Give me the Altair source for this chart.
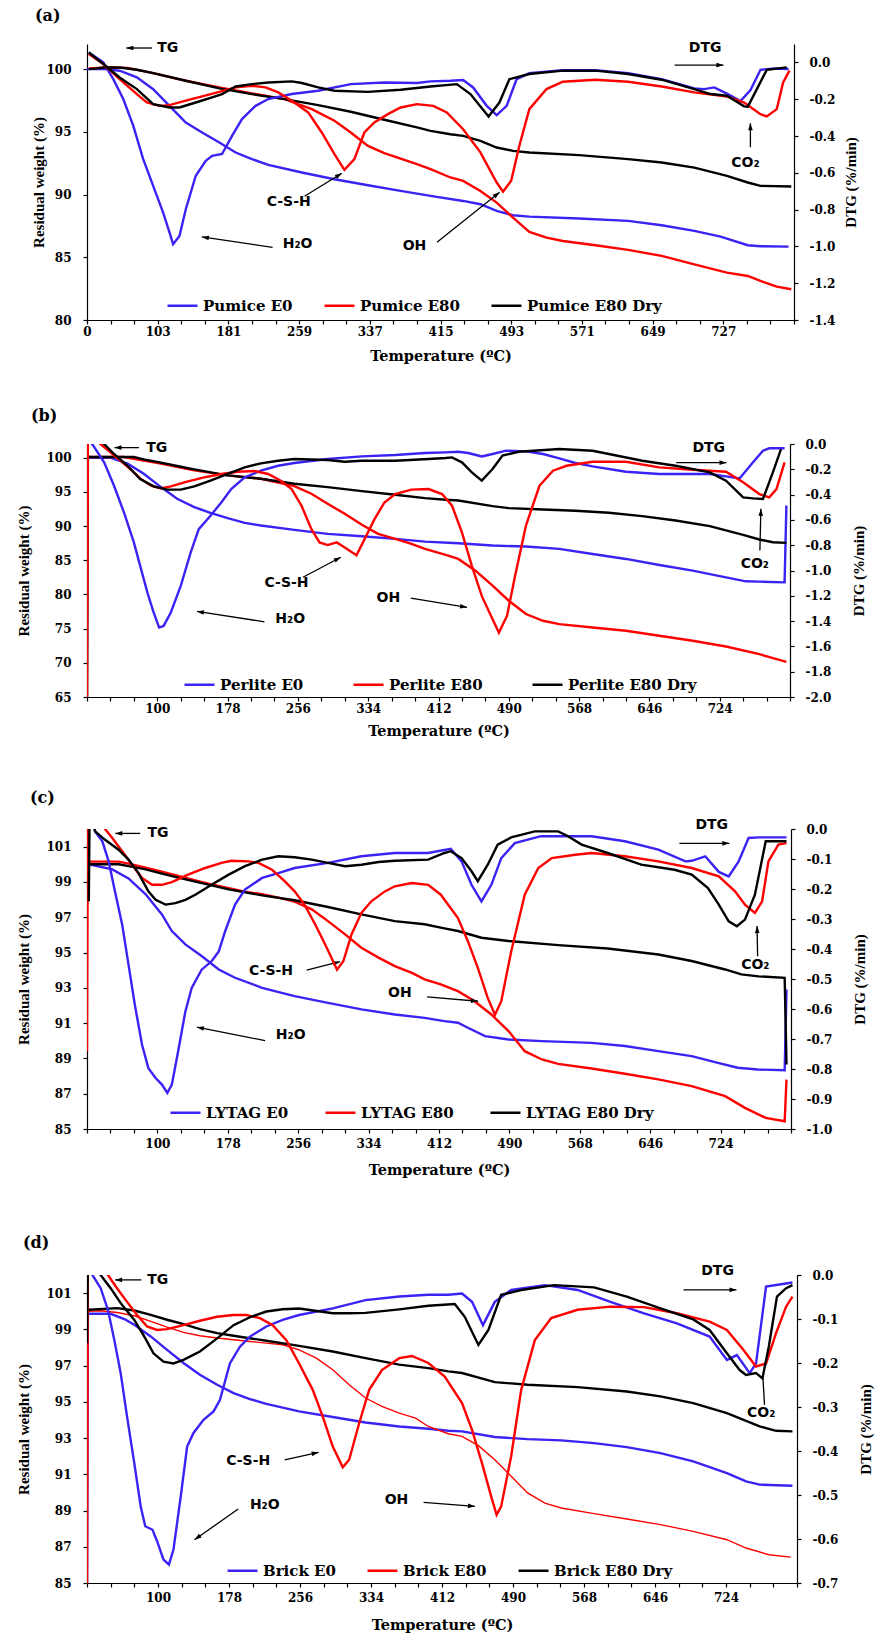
import math
import altair as alt
import pandas as pd

# ---------------------------------------------------------------------------
# Styling
# ---------------------------------------------------------------------------
BLUE = "#3b22f5"
RED = "#ff0000"
BLACK = "#000000"
COLORS = [BLUE, RED, BLACK]

SERIF = "DejaVu Serif"          # tick labels, legend, x title, panel tags
TITLE_SERIF = "Liberation Serif"  # vertical axis titles
SANS = "DejaVu Sans"            # peak annotations

# Temperature axis: a tick every 26 °C, a label every third tick
XLABELS_A = ["0", "103", "181", "259", "337", "415", "493", "571", "649", "727"]
XLABELS_BCD = ["", "100", "178", "256", "334", "412", "490", "568", "646", "724"]

# ---------------------------------------------------------------------------
# (a) Pumice   -- (temperature °C, value)
# ---------------------------------------------------------------------------
PUMICE_NAMES = ["Pumice E0", "Pumice E80", "Pumice E80 Dry"]
PUMICE_E0_TG = [(25, 100.0), (45, 100.0), (61, 99.87), (80, 99.34), (98, 98.40), (116, 97.07), (134, 95.74),
                (152, 94.95), (171, 94.15), (189, 93.35), (207, 92.82), (225, 92.37), (262, 91.76), (298, 91.22),
                (335, 90.74), (371, 90.29), (404, 89.89), (440, 89.49), (459, 89.23), (477, 88.70), (495, 88.35),
                (513, 88.24), (568, 88.09), (622, 87.90), (659, 87.55), (695, 87.10), (724, 86.65), (754, 85.96),
                (768, 85.88), (799, 85.85)]
PUMICE_E80_TG = [(27, 100.05), (45, 100.13), (70, 100.10), (98, 99.68), (134, 99.07), (171, 98.54), (207, 98.06),
                 (243, 97.61), (273, 96.81), (298, 95.88), (316, 94.95), (335, 93.88), (353, 93.30), (389, 92.42),
                 (404, 92.02), (426, 91.36), (440, 91.09), (459, 90.29), (477, 89.36), (495, 88.16), (513, 87.02),
                 (532, 86.57), (550, 86.30), (586, 85.96), (622, 85.59), (659, 85.11), (695, 84.44), (731, 83.78),
                 (754, 83.51), (768, 83.11), (786, 82.66), (802, 82.45)]
PUMICE_DRY_TG = [(27, 100.0), (45, 100.13), (61, 100.13), (80, 99.95), (98, 99.68), (134, 99.07), (171, 98.46),
                 (207, 98.0), (243, 97.61), (280, 97.13), (316, 96.60), (353, 95.96), (389, 95.35), (404, 95.08),
                 (426, 94.81), (440, 94.68), (459, 94.28), (477, 93.75), (495, 93.48), (513, 93.35), (568, 93.14),
                 (622, 92.82), (659, 92.55), (695, 92.15), (731, 91.49), (754, 90.96), (768, 90.69), (802, 90.64)]
PUMICE_E0_DTG = [(27, 0.054), (43, 0.0), (54, -0.091), (65, -0.199), (76, -0.344), (87, -0.526), (98, -0.671),
                 (109, -0.816), (116, -0.924), (120, -0.988), (127, -0.943), (134, -0.798), (145, -0.616),
                 (156, -0.535), (163, -0.508), (174, -0.498), (185, -0.399), (196, -0.308), (211, -0.236),
                 (225, -0.199), (251, -0.172), (280, -0.154), (316, -0.118), (353, -0.109), (389, -0.112),
                 (404, -0.103), (426, -0.100), (440, -0.096), (451, -0.136), (466, -0.236), (477, -0.286),
                 (488, -0.236), (499, -0.091), (513, -0.058), (550, -0.042), (586, -0.042), (622, -0.058),
                 (659, -0.091), (695, -0.141), (706, -0.145), (717, -0.136), (731, -0.170), (746, -0.210),
                 (757, -0.150), (768, -0.040), (783, -0.033), (799, -0.036)]
PUMICE_E80_DTG = [(27, 0.045), (43, -0.009), (61, -0.091), (80, -0.172), (91, -0.218), (105, -0.236), (116, -0.232),
                  (134, -0.208), (152, -0.185), (171, -0.160), (189, -0.136), (207, -0.127), (222, -0.136),
                  (236, -0.163), (251, -0.208), (269, -0.272), (284, -0.381), (298, -0.498), (309, -0.584),
                  (320, -0.526), (331, -0.381), (342, -0.326), (357, -0.281), (371, -0.245), (389, -0.227),
                  (407, -0.236), (422, -0.272), (440, -0.363), (459, -0.489), (477, -0.653), (484, -0.703),
                  (493, -0.643), (502, -0.453), (513, -0.254), (532, -0.145), (550, -0.105), (586, -0.094),
                  (622, -0.105), (659, -0.131), (695, -0.163), (731, -0.185), (750, -0.218), (768, -0.281),
                  (775, -0.294), (786, -0.254), (793, -0.109), (800, -0.045)]
PUMICE_DRY_DTG = [(27, 0.054), (43, -0.009), (61, -0.082), (80, -0.145), (98, -0.227), (116, -0.245), (127, -0.245),
                  (145, -0.218), (163, -0.190), (174, -0.172), (189, -0.131), (207, -0.118), (225, -0.109),
                  (251, -0.103), (262, -0.112), (280, -0.136), (298, -0.154), (335, -0.160), (371, -0.149),
                  (404, -0.131), (433, -0.118), (448, -0.172), (468, -0.294), (480, -0.218), (491, -0.091),
                  (513, -0.063), (550, -0.045), (586, -0.045), (622, -0.063), (659, -0.094), (695, -0.145),
                  (713, -0.172), (731, -0.181), (750, -0.239), (754, -0.241), (764, -0.145), (775, -0.040),
                  (797, -0.027)]

# ---------------------------------------------------------------------------
# (b) Perlite
# ---------------------------------------------------------------------------
PERLITE_NAMES = ["Perlite E0", "Perlite E80", "Perlite E80 Dry"]
PERLITE_E0_TG = [(22, 100.0), (48, 100.0), (67, 99.12), (85, 97.65), (104, 95.70), (122, 93.99), (141, 92.77),
                 (159, 91.94), (178, 91.15), (197, 90.47), (215, 90.08), (252, 89.44), (289, 88.86), (327, 88.51),
                 (364, 88.12), (397, 87.73), (434, 87.49), (472, 87.15), (509, 87.0), (546, 86.66), (583, 85.92),
                 (620, 85.19), (657, 84.31), (694, 83.48), (731, 82.50), (753, 81.92), (768, 81.87), (796, 81.77),
                 (798, 93.0)]
PERLITE_E80_TG = [(24, 100.1), (63, 100.1), (104, 99.12), (141, 98.14), (178, 97.41), (215, 96.92), (252, 95.85),
                  (271, 94.72), (289, 93.26), (308, 91.79), (327, 90.18), (345, 88.86), (364, 88.12), (382, 87.39),
                  (397, 86.66), (420, 85.78), (434, 85.19), (453, 83.48), (472, 81.28), (490, 79.08), (509, 77.13),
                  (528, 76.15), (546, 75.66), (583, 75.17), (620, 74.68), (657, 73.95), (694, 73.22), (731, 72.39),
                  (768, 71.26), (798, 70.14)]
PERLITE_DRY_TG = [(22, 65.0), (23, 100.1), (74, 100.1), (85, 99.76), (104, 99.27), (122, 98.78), (141, 98.29),
                  (178, 97.41), (215, 96.92), (252, 96.19), (289, 95.70), (327, 95.11), (364, 94.57), (397, 94.09),
                  (420, 93.84), (434, 93.74), (472, 92.91), (490, 92.62), (528, 92.42), (564, 92.23), (601, 91.94),
                  (638, 91.45), (675, 90.81), (713, 89.98), (750, 88.71), (768, 88.03), (783, 87.63), (798, 87.54)]
PERLITE_E0_DTG = [(22, 0.05), (29, -0.013), (41, -0.145), (52, -0.330), (63, -0.541), (74, -0.778), (81, -0.963),
                  (89, -1.174), (96, -1.332), (102, -1.451), (107, -1.438), (115, -1.332), (126, -1.121),
                  (137, -0.858), (146, -0.673), (159, -0.567), (171, -0.462), (182, -0.356), (197, -0.264),
                  (215, -0.211), (234, -0.172), (252, -0.150), (289, -0.119), (327, -0.098), (364, -0.087),
                  (397, -0.071), (420, -0.066), (434, -0.061), (445, -0.071), (460, -0.098), (472, -0.079),
                  (487, -0.053), (509, -0.058), (528, -0.079), (546, -0.113), (564, -0.150), (583, -0.177),
                  (620, -0.219), (657, -0.237), (694, -0.237), (713, -0.237), (731, -0.256), (746, -0.272),
                  (761, -0.145), (772, -0.053), (779, -0.034), (796, -0.034)]
PERLITE_E80_DTG = [(22, -2.0), (23, 0.1), (37, 0.0), (48, -0.066), (59, -0.132), (70, -0.198), (81, -0.272),
                   (93, -0.330), (104, -0.351), (115, -0.335), (133, -0.298), (152, -0.264), (171, -0.237),
                   (189, -0.219), (208, -0.214), (223, -0.237), (237, -0.290), (249, -0.356), (260, -0.488),
                   (271, -0.673), (280, -0.778), (289, -0.799), (299, -0.778), (308, -0.818), (321, -0.879),
                   (330, -0.752), (341, -0.594), (352, -0.462), (364, -0.396), (382, -0.361), (401, -0.356),
                   (416, -0.396), (427, -0.488), (438, -0.699), (449, -0.963), (460, -1.201), (472, -1.385),
                   (479, -1.491), (488, -1.359), (497, -1.042), (509, -0.646), (524, -0.330), (539, -0.211),
                   (554, -0.172), (583, -0.140), (620, -0.140), (657, -0.185), (694, -0.203), (731, -0.219),
                   (750, -0.303), (768, -0.396), (779, -0.422), (787, -0.356), (796, -0.145)]
PERLITE_DRY_DTG = [(22, 0.15), (41, 0.0), (52, -0.079), (67, -0.172), (81, -0.277), (96, -0.335), (111, -0.361),
                   (126, -0.361), (141, -0.335), (159, -0.290), (178, -0.237), (197, -0.185), (215, -0.153),
                   (234, -0.132), (252, -0.119), (289, -0.127), (308, -0.140), (327, -0.132), (364, -0.132),
                   (401, -0.119), (420, -0.111), (427, -0.106), (438, -0.145), (449, -0.224), (460, -0.290),
                   (472, -0.198), (483, -0.092), (501, -0.061), (546, -0.040), (583, -0.053), (601, -0.079),
                   (638, -0.132), (675, -0.172), (713, -0.224), (731, -0.290), (750, -0.422), (761, -0.430),
                   (772, -0.435), (783, -0.224), (792, -0.040)]

# ---------------------------------------------------------------------------
# (c) LYTAG
# ---------------------------------------------------------------------------
LYTAG_NAMES = ["LYTAG E0", "LYTAG E80", "LYTAG E80 Dry"]
LYTAG_E0_TG = [(24, 100.0), (50, 99.71), (68, 99.20), (87, 98.30), (105, 97.16), (116, 96.22), (131, 95.46),
               (149, 94.80), (168, 94.04), (186, 93.57), (216, 93.0), (252, 92.53), (289, 92.15), (326, 91.78),
               (363, 91.49), (396, 91.30), (418, 91.11), (433, 91.02), (444, 90.74), (463, 90.26), (489, 90.07),
               (526, 89.98), (581, 89.88), (618, 89.70), (655, 89.41), (692, 89.13), (721, 88.75), (743, 88.47),
               (765, 88.37), (795, 88.33), (797, 92.9)]
LYTAG_E80_TG = [(24, 100.15), (57, 100.15), (68, 100.04), (87, 99.81), (105, 99.58), (123, 99.34), (142, 99.09),
                (160, 98.86), (179, 98.64), (197, 98.45), (216, 98.30), (234, 98.11), (252, 97.88), (271, 97.45),
                (289, 96.78), (308, 96.03), (326, 95.27), (345, 94.71), (363, 94.23), (382, 93.85), (396, 93.48),
                (414, 93.19), (433, 92.81), (451, 92.25), (470, 91.49), (489, 90.55), (507, 89.41), (526, 88.94),
                (544, 88.69), (581, 88.43), (618, 88.13), (655, 87.81), (692, 87.43), (729, 86.86), (751, 86.20),
                (774, 85.63), (795, 85.44), (797, 87.8)]
LYTAG_DRY_TG = [(24, 100.0), (57, 100.0), (68, 99.90), (87, 99.71), (105, 99.47), (123, 99.24), (142, 99.02),
                (179, 98.58), (216, 98.24), (252, 97.96), (289, 97.58), (326, 97.16), (363, 96.78), (396, 96.60),
                (418, 96.37), (433, 96.22), (459, 95.84), (489, 95.65), (544, 95.42), (599, 95.23), (655, 94.89),
                (692, 94.52), (729, 94.04), (747, 93.76), (766, 93.65), (795, 93.57), (797, 88.66)]
LYTAG_E0_DTG = [(22, 0.1), (31, -0.008), (39, -0.041), (46, -0.108), (53, -0.208), (61, -0.319), (68, -0.452),
                (75, -0.586), (83, -0.719), (90, -0.797), (98, -0.830), (105, -0.852), (111, -0.880), (116, -0.852),
                (123, -0.741), (131, -0.608), (138, -0.530), (149, -0.469), (160, -0.441), (168, -0.408),
                (175, -0.341), (186, -0.252), (197, -0.202), (216, -0.163), (234, -0.147), (252, -0.130),
                (289, -0.113), (326, -0.091), (363, -0.080), (400, -0.080), (425, -0.066), (437, -0.108),
                (448, -0.186), (459, -0.241), (470, -0.186), (481, -0.097), (496, -0.047), (525, -0.024),
                (581, -0.024), (618, -0.041), (655, -0.069), (685, -0.108), (692, -0.106), (707, -0.091),
                (722, -0.143), (733, -0.158), (744, -0.108), (755, -0.030), (766, -0.028), (797, -0.028)]
LYTAG_E80_DTG = [(22, -0.741), (23, 0.1), (42, 0.0), (50, -0.030), (61, -0.074), (72, -0.119), (83, -0.163),
                 (94, -0.186), (105, -0.186), (116, -0.177), (134, -0.152), (153, -0.130), (171, -0.113),
                 (182, -0.106), (201, -0.108), (212, -0.113), (227, -0.136), (241, -0.174), (252, -0.208),
                 (263, -0.252), (275, -0.319), (286, -0.386), (293, -0.430), (299, -0.469), (306, -0.441),
                 (315, -0.352), (326, -0.280), (337, -0.241), (352, -0.208), (363, -0.191), (382, -0.180),
                 (400, -0.186), (414, -0.219), (433, -0.297), (444, -0.374), (455, -0.463), (466, -0.563),
                 (474, -0.619), (481, -0.574), (492, -0.408), (507, -0.219), (522, -0.130), (537, -0.097),
                 (563, -0.086), (581, -0.080), (618, -0.091), (655, -0.108), (692, -0.130), (722, -0.158),
                 (740, -0.208), (751, -0.252), (762, -0.280), (770, -0.241), (777, -0.108), (788, -0.052),
                 (797, -0.047)]
LYTAG_DRY_DTG = [(24, -0.241), (25, 0.1), (31, -0.008), (42, -0.036), (57, -0.069), (68, -0.102), (79, -0.147),
                 (90, -0.208), (98, -0.236), (109, -0.252), (120, -0.247), (131, -0.236), (142, -0.219),
                 (160, -0.186), (179, -0.152), (197, -0.124), (216, -0.102), (234, -0.091), (252, -0.094),
                 (271, -0.102), (289, -0.113), (308, -0.124), (326, -0.119), (345, -0.110), (363, -0.106),
                 (400, -0.102), (418, -0.080), (425, -0.074), (437, -0.097), (448, -0.141), (455, -0.174),
                 (466, -0.119), (477, -0.052), (492, -0.028), (518, -0.008), (544, -0.008), (555, -0.024),
                 (570, -0.052), (599, -0.080), (636, -0.119), (673, -0.136), (692, -0.152), (710, -0.197),
                 (722, -0.252), (733, -0.308), (742, -0.324), (751, -0.302), (762, -0.219), (774, -0.041),
                 (797, -0.041)]

# ---------------------------------------------------------------------------
# (d) Brick
# ---------------------------------------------------------------------------
BRICK_NAMES = ["Brick E0", "Brick E80", "Brick E80 Dry"]
BRICK_E0_TG = [(22, 85.0), (23, 99.86), (48, 99.86), (63, 99.57), (74, 99.25), (92, 98.61), (110, 97.87),
               (128, 97.14), (146, 96.49), (165, 95.94), (183, 95.48), (201, 95.15), (219, 94.89), (255, 94.47),
               (292, 94.16), (328, 93.86), (365, 93.64), (397, 93.51), (419, 93.40), (434, 93.37), (470, 93.06),
               (506, 92.94), (543, 92.87), (579, 92.72), (615, 92.50), (652, 92.17), (688, 91.71), (725, 91.07),
               (746, 90.61), (761, 90.43), (797, 90.37)]
BRICK_E80_TG = [(24, 99.99), (37, 100.03), (55, 99.93), (74, 99.75), (92, 99.44), (110, 99.12), (128, 98.83),
                (146, 98.65), (165, 98.52), (183, 98.43), (201, 98.33), (219, 98.24), (237, 98.15), (255, 97.87),
                (274, 97.41), (292, 96.77), (310, 95.94), (328, 95.21), (346, 94.75), (365, 94.38), (383, 94.10),
                (397, 93.64), (419, 93.24), (434, 93.09), (452, 92.58), (470, 91.80), (488, 90.89), (506, 89.97),
                (525, 89.41), (543, 89.14), (579, 88.83), (615, 88.53), (652, 88.22), (688, 87.85), (725, 87.39),
                (746, 86.93), (771, 86.56), (795, 86.43)]
BRICK_DRY_TG = [(24, 100.08), (55, 100.17), (74, 100.04), (92, 99.80), (110, 99.53), (128, 99.29), (146, 99.01),
                (165, 98.79), (183, 98.65), (219, 98.37), (255, 98.09), (292, 97.78), (328, 97.41), (365, 97.05),
                (397, 96.86), (419, 96.68), (434, 96.59), (470, 96.09), (506, 95.94), (561, 95.81), (615, 95.57),
                (652, 95.30), (688, 94.93), (725, 94.38), (761, 93.64), (779, 93.40), (797, 93.37)]
BRICK_E0_DTG = [(24, 0.05), (28, 0.0), (37, -0.030), (45, -0.079), (52, -0.148), (59, -0.223), (66, -0.322),
                (74, -0.428), (81, -0.526), (86, -0.571), (94, -0.579), (99, -0.605), (106, -0.647), (112, -0.658),
                (117, -0.624), (125, -0.503), (132, -0.390), (139, -0.359), (150, -0.329), (161, -0.310),
                (168, -0.284), (179, -0.201), (190, -0.163), (201, -0.140), (219, -0.117), (237, -0.102),
                (255, -0.091), (292, -0.076), (328, -0.057), (365, -0.049), (397, -0.045), (419, -0.045),
                (434, -0.042), (445, -0.061), (457, -0.114), (470, -0.061), (488, -0.034), (525, -0.023),
                (561, -0.034), (597, -0.061), (634, -0.087), (670, -0.110), (706, -0.140), (725, -0.193),
                (736, -0.182), (750, -0.223), (757, -0.201), (768, -0.026), (797, -0.017)]
BRICK_E80_DTG = [(22, -0.7), (23, 0.05), (45, 0.0), (55, -0.030), (66, -0.061), (77, -0.091), (88, -0.117),
                 (99, -0.125), (110, -0.123), (128, -0.114), (146, -0.104), (165, -0.095), (183, -0.091),
                 (197, -0.091), (212, -0.098), (226, -0.114), (241, -0.148), (255, -0.201), (270, -0.261),
                 (281, -0.322), (292, -0.390), (303, -0.437), (310, -0.420), (321, -0.337), (332, -0.261),
                 (346, -0.216), (365, -0.189), (379, -0.184), (397, -0.200), (415, -0.231), (434, -0.291),
                 (445, -0.352), (456, -0.428), (466, -0.503), (472, -0.545), (477, -0.526), (488, -0.412),
                 (499, -0.261), (514, -0.148), (532, -0.098), (561, -0.079), (597, -0.072), (634, -0.073),
                 (670, -0.087), (706, -0.106), (725, -0.125), (743, -0.170), (757, -0.208), (768, -0.201),
                 (779, -0.132), (790, -0.072), (797, -0.049)]
BRICK_DRY_DTG = [(22, -0.155), (23, 0.05), (37, 0.0), (48, -0.030), (59, -0.064), (74, -0.102), (85, -0.140),
                 (95, -0.178), (106, -0.197), (117, -0.201), (128, -0.193), (146, -0.174), (165, -0.144),
                 (183, -0.114), (201, -0.096), (219, -0.083), (237, -0.078), (255, -0.076), (292, -0.087),
                 (310, -0.087), (328, -0.086), (365, -0.078), (397, -0.070), (426, -0.066), (437, -0.095),
                 (452, -0.159), (463, -0.125), (477, -0.045), (499, -0.034), (535, -0.023), (579, -0.028),
                 (615, -0.049), (652, -0.076), (688, -0.101), (706, -0.125), (725, -0.178), (739, -0.216),
                 (746, -0.227), (757, -0.223), (764, -0.235), (771, -0.163), (780, -0.049), (790, -0.030),
                 (797, -0.023)]

# ---------------------------------------------------------------------------
# Peak annotations: (text, temperature, residual weight) and arrows
# (from temperature, from weight, to temperature, to weight, arrowhead)
# ---------------------------------------------------------------------------
A_TEXT = [("TG", 114, 101.68), ("DTG", 707, 101.65), ("C-S-H", 247.5, 89.39), ("H₂O", 257.4, 86.03),
          ("OH", 386.3, 85.90), ("CO₂", 751.4, 92.55)]
A_ARROWS = [(96.8, 101.68, 68.4, 101.68, True), (673.2, 100.32, 727.1, 100.32, True),
            (265, 89.86, 306.2, 91.70, True), (229.7, 85.79, 151.7, 86.62, True),
            (411.1, 86.19, 480.2, 90.18, True), (756.9, 93.77, 756.9, 95.69, True)]
B_TEXT = [("TG", 99.3, 101.47), ("DTG", 711.8, 101.47), ("C-S-H", 243.4, 81.63), ("H₂O", 247.5, 76.39),
          ("OH", 356.3, 79.43), ("CO₂", 763, 84.46)]
B_ARROWS = [(79.6, 101.47, 52.5, 101.47, True), (675.8, 99.27, 731.5, 99.27, True),
            (261.6, 82.51, 303.6, 85.44, True), (218.9, 76.0, 143.9, 77.52, True),
            (381.3, 79.47, 443.7, 78.11, True), (768.6, 86.41, 769.7, 92.52, True)]
C_TEXT = [("TG", 100.6, 101.75), ("DTG", 714.2, 102.21), ("C-S-H", 225.9, 93.94), ("H₂O", 247.7, 90.30),
          ("OH", 368.6, 92.68), ("CO₂", 762.5, 94.32)]
C_ARROWS = [(81, 101.75, 53.3, 101.75, True), (678.4, 101.19, 733.7, 101.19, True),
            (265.4, 94.0, 302.3, 94.48, True), (219.3, 90.01, 143.7, 90.77, True),
            (398.8, 92.49, 455.3, 92.24, True), (765, 94.79, 764.4, 96.5, True)]
D_TEXT = [("TG", 99.8, 101.73), ("DTG", 714.7, 102.23), ("C-S-H", 199.1, 91.71), ("H₂O", 217.3, 89.32),
          ("OH", 362, 89.60), ("CO₂", 762.7, 94.38)]
D_ARROWS = [(81.7, 101.73, 52.9, 101.73, True), (677.3, 101.18, 735.5, 101.18, True),
            (239.1, 91.80, 276.5, 92.21, True), (188.1, 89.08, 140.1, 87.39, True),
            (391.8, 89.45, 448.2, 89.23, True), (766.3, 94.84, 764.5, 96.40, False)]

# ---------------------------------------------------------------------------
# Panel layout settings
# ---------------------------------------------------------------------------
PANELS = [
    dict(tag="(a)", names=PUMICE_NAMES, t0=25, xlabels=XLABELS_A,
         tg=[PUMICE_E0_TG, PUMICE_E80_TG, PUMICE_DRY_TG], dtg=[PUMICE_E0_DTG, PUMICE_E80_DTG, PUMICE_DRY_DTG],
         tg_dom=[80, 102], tg_ticks=[80, 85, 90, 95, 100],
         dtg_dom=[-1.4, 0.1], dtg_ticks=[-1.4, -1.2, -1.0, -0.8, -0.6, -0.4, -0.2, 0.0],
         text=A_TEXT, arrows=A_ARROWS, widths=[2.4, 2.4, 2.4],
         w=707, h=276, lx=79, ly=245, cpad=26, tag_dx=-52, tag_dy=28,
         x_lpad=2, x_tpad=19, yl_tpad=7, yr_tpad=16, spacer=0),
    dict(tag="(b)", names=PERLITE_NAMES, t0=22, xlabels=XLABELS_BCD,
         tg=[PERLITE_E0_TG, PERLITE_E80_TG, PERLITE_DRY_TG], dtg=[PERLITE_E0_DTG, PERLITE_E80_DTG, PERLITE_DRY_DTG],
         tg_dom=[65, 102], tg_ticks=[65, 70, 75, 80, 85, 90, 95, 100],
         dtg_dom=[-2.0, 0.0], dtg_ticks=[-2.0, -1.8, -1.6, -1.4, -1.2, -1.0, -0.8, -0.6, -0.4, -0.2, 0.0],
         text=B_TEXT, arrows=B_ARROWS, widths=[2.4, 2.4, 2.4],
         w=703, h=253, lx=96, ly=224, cpad=44, tag_dx=-56, tag_dy=28,
         x_lpad=2, x_tpad=17, yl_tpad=22, yr_tpad=28, spacer=0),
    dict(tag="(c)", names=LYTAG_NAMES, t0=22, xlabels=XLABELS_BCD,
         tg=[LYTAG_E0_TG, LYTAG_E80_TG, LYTAG_DRY_TG], dtg=[LYTAG_E0_DTG, LYTAG_E80_DTG, LYTAG_DRY_DTG],
         tg_dom=[85, 102], tg_ticks=[85, 87, 89, 91, 93, 95, 97, 99, 101],
         dtg_dom=[-1.0, 0.0], dtg_ticks=[-1.0, -0.9, -0.8, -0.7, -0.6, -0.5, -0.4, -0.3, -0.2, -0.1, 0.0],
         text=C_TEXT, arrows=C_ARROWS, widths=[2.4, 2.4, 2.4],
         w=704, h=300, lx=82, ly=267, cpad=31, tag_dx=-57, tag_dy=31,
         x_lpad=5, x_tpad=21, yl_tpad=22, yr_tpad=28, spacer=46),
    dict(tag="(d)", names=BRICK_NAMES, t0=22, xlabels=XLABELS_BCD,
         tg=[BRICK_E0_TG, BRICK_E80_TG, BRICK_DRY_TG], dtg=[BRICK_E0_DTG, BRICK_E80_DTG, BRICK_DRY_DTG],
         tg_dom=[85, 102], tg_ticks=[85, 87, 89, 91, 93, 95, 97, 99, 101],
         dtg_dom=[-0.7, 0.0], dtg_ticks=[-0.7, -0.6, -0.5, -0.4, -0.3, -0.2, -0.1, 0.0],
         text=D_TEXT, arrows=D_ARROWS, widths=[2.4, 1.4, 2.4],
         w=710, h=308, lx=139, ly=279, cpad=26, tag_dx=-64, tag_dy=32,
         x_lpad=5, x_tpad=22, yl_tpad=22, yr_tpad=28, spacer=53),
]

SPAN = 780          # temperature span of each panel's x axis
ARROW_HEAD = "M0,0L0.6,1.8L-0.6,1.8Z"


def series_frame(names, series, widths):
    rows = []
    for name, pts, sw in zip(names, series, widths):
        for t, v in pts:
            rows.append({"T": t, "v": v, "sample": name, "sw": sw})
    return pd.DataFrame(rows)


def head_angle(p, t1, v1, t2, v2):
    sx = p["w"] / SPAN
    sy = p["h"] / (p["tg_dom"][1] - p["tg_dom"][0])
    dx = (t2 - t1) * sx
    dy = -(v2 - v1) * sy
    return math.degrees(math.atan2(dx, -dy)) % 360


def build_panel(p):
    t0 = p["t0"]
    xscale = alt.Scale(domain=[t0, t0 + SPAN], nice=False, zero=False)
    tick_vals = [t0 + 26 * i for i in range(31)]
    lab_vals = [t0 + 78 * i for i in range(len(p["xlabels"]))]
    vals_js = "[" + ",".join(str(v) for v in lab_vals) + "]"
    labs_js = "[" + ",".join("'" + s + "'" for s in p["xlabels"]) + "]"
    x_expr = f"indexof({vals_js}, datum.value) >= 0 ? {labs_js}[indexof({vals_js}, datum.value)] : ''"

    xaxis = alt.Axis(title="Temperature (ºC)", values=tick_vals, labelExpr=x_expr, grid=False,
                     tickSize=4, labelPadding=p["x_lpad"], labelFlush=False, labelOverlap=False,
                     labelFont=SERIF, labelFontSize=12, labelFontWeight="bold",
                     titleFont=SERIF, titleFontSize=14.5, titleFontWeight="bold",
                     titlePadding=p["x_tpad"], titleBaseline="middle")
    yl_scale = alt.Scale(domain=p["tg_dom"], nice=False, zero=False)
    yl_axis = alt.Axis(title="Residual weight (%)", values=p["tg_ticks"], format="d", grid=False,
                       tickSize=4, labelPadding=12, labelFlush=False, labelOverlap=False,
                       labelFont=SERIF, labelFontSize=12, labelFontWeight="bold",
                       titleFont=TITLE_SERIF, titleFontSize=15, titleFontWeight="bold",
                       titlePadding=p["yl_tpad"], titleBaseline="middle")
    yr_scale = alt.Scale(domain=p["dtg_dom"], nice=False, zero=False)
    yr_axis = alt.Axis(title="DTG (%/min)", orient="right", values=p["dtg_ticks"], grid=False,
                       labelExpr="replace(format(datum.value, '.1f'), '\u2212', '-')",
                       tickSize=4, labelPadding=11, labelFlush=False, labelOverlap=False,
                       labelFont=SERIF, labelFontSize=12, labelFontWeight="bold",
                       titleFont=TITLE_SERIF, titleFontSize=15, titleFontWeight="bold",
                       titleAngle=270, titlePadding=p["yr_tpad"], titleBaseline="middle")

    legend = alt.Legend(title=None, orient="none", legendX=p["lx"], legendY=p["ly"],
                        direction="horizontal", columns=3, symbolType="stroke", symbolSize=900,
                        symbolStrokeWidth=2.5, labelFont=SERIF, labelFontSize=15, labelFontWeight="bold",
                        labelColor="black", columnPadding=p["cpad"], labelOffset=4, padding=0)
    color = alt.Color("sample:N", scale=alt.Scale(domain=p["names"], range=COLORS), legend=legend)

    x_enc = alt.X("T:Q", scale=xscale, axis=xaxis)

    tg = alt.Chart(series_frame(p["names"], p["tg"], p["widths"])).mark_line(clip=True).encode(
        x=x_enc,
        y=alt.Y("v:Q", scale=yl_scale, axis=yl_axis),
        color=color,
        strokeWidth=alt.StrokeWidth("sw:Q", scale=None),
    )

    txt_df = pd.DataFrame([{"label": s, "T": t, "v": v} for s, t, v in p["text"]])
    texts = alt.Chart(txt_df).mark_text(font=SANS, fontWeight="bold", fontSize=14, color="black").encode(
        x=x_enc, y=alt.Y("v:Q", scale=yl_scale, axis=yl_axis), text="label:N")

    arr_df = pd.DataFrame([{"T": a, "v": b, "T2": c, "v2": d, "head": h,
                            "ang": head_angle(p, a, b, c, d)} for a, b, c, d, h in p["arrows"]])
    shafts = alt.Chart(arr_df).mark_rule(color="black", strokeWidth=1.3).encode(
        x=x_enc, x2="T2:Q", y=alt.Y("v:Q", scale=yl_scale, axis=yl_axis), y2="v2:Q")
    heads = alt.Chart(arr_df[arr_df["head"]]).mark_point(
        shape=ARROW_HEAD, filled=True, size=61, color="black", opacity=1).encode(
        x=alt.X("T2:Q", scale=xscale, axis=xaxis),
        y=alt.Y("v2:Q", scale=yl_scale, axis=yl_axis),
        angle=alt.Angle("ang:Q", scale=None))

    # panel tag, set above the plot's top-left corner
    tag = alt.Chart(alt.Data(values=[{}])).mark_text(
        text=p["tag"], font=SERIF, fontSize=16, fontWeight="bold", color="black",
        align="left", baseline="middle").encode(x=alt.value(p["tag_dx"]), y=alt.value(-p["tag_dy"]))

    left_layers = [tg, texts, shafts, heads, tag]
    if p["spacer"]:
        # keeps extra room between this panel and the one above it
        gap = alt.Chart(alt.Data(values=[{}])).mark_rule(opacity=0, strokeWidth=1).encode(
            x=alt.value(0), x2=alt.value(1), y=alt.value(-p["spacer"]), y2=alt.value(-p["spacer"]))
        left_layers.append(gap)
    left = alt.layer(*left_layers)

    dtg = alt.Chart(series_frame(p["names"], p["dtg"], [2.4, 2.4, 2.4])).mark_line(clip=True).encode(
        x=x_enc,
        y=alt.Y("v:Q", scale=yr_scale, axis=yr_axis),
        color=color,
        strokeWidth=alt.StrokeWidth("sw:Q", scale=None),
    )

    return alt.layer(left, dtg).resolve_scale(y="independent").properties(width=p["w"], height=p["h"])


chart = alt.vconcat(*[build_panel(p) for p in PANELS], spacing=45).resolve_scale(
    color="independent"
).resolve_legend(color="independent").properties(
    padding={"left": 16, "top": 8, "right": 4, "bottom": 2},
    background="white",
).configure_view(stroke=None).configure_axis(
    domainColor="black", tickColor="black", labelColor="black", titleColor="black",
    domainWidth=1.2, tickWidth=1.2,
)

chart.save("out.html", embed_options={"renderer": "svg", "actions": False})
